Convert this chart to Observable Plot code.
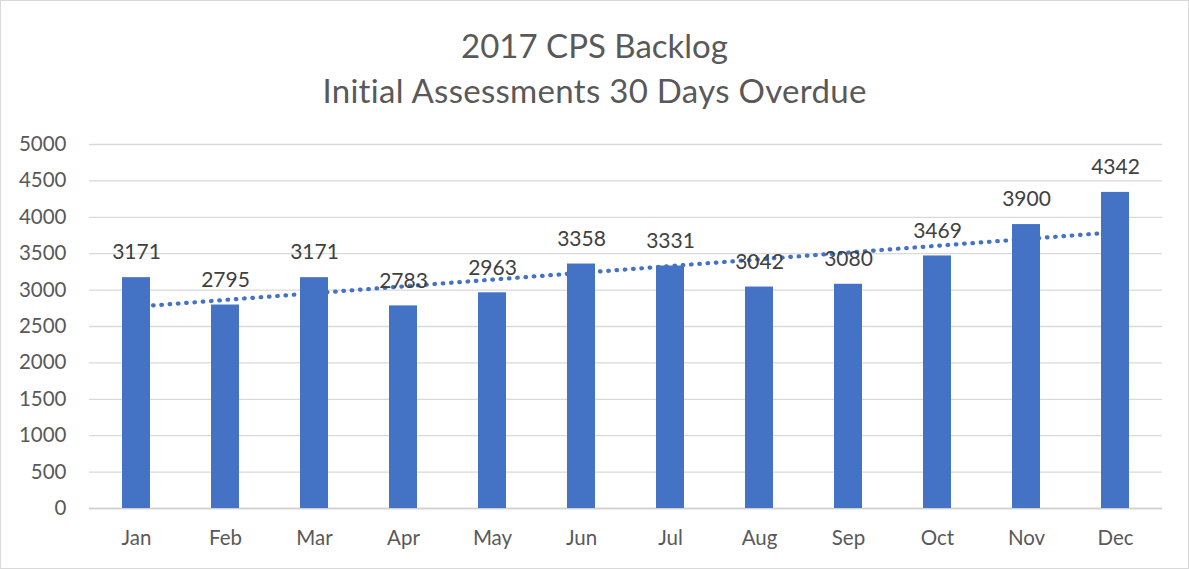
<!DOCTYPE html>
<html>
<head>
<meta charset="utf-8">
<script src="https://cdn.jsdelivr.net/npm/d3@7"></script>
<script src="https://cdn.jsdelivr.net/npm/@observablehq/plot@0.6"></script>
<style>
  html, body { margin: 0; padding: 0; background: #fff; }
  #frame { width: 1187px; height: 567px; border: 1px solid #d9d9d9; background: #fff; overflow: hidden; }
  #title { height: 120px; box-sizing: border-box; padding-top: 22px; text-align: center; font-family: Lato, "Noto Sans", sans-serif; font-size: 33px; line-height: 45px; color: #595959; }
  #title .l2 { letter-spacing: 0.3px; }
</style>
</head>
<body>
<div id="frame">
  <div id="title"><div>2017 CPS Backlog</div><div class="l2">Initial Assessments 30 Days Overdue</div></div>
  <div id="chart"></div>
</div>
<script>
const months = ["Jan","Feb","Mar","Apr","May","Jun","Jul","Aug","Sep","Oct","Nov","Dec"];
const backlog = [3171, 2795, 3171, 2783, 2963, 3358, 3331, 3042, 3080, 3469, 3900, 4342];
const yTicks = [0, 500, 1000, 1500, 2000, 2500, 3000, 3500, 4000, 4500, 5000];

const data = months.map((m, i) => ({month: m, value: backlog[i], idx: i + 1}));

// Linear trendline (least squares, like Excel)
const mx = d3.mean(data, d => d.idx), my = d3.mean(data, d => d.value);
const slope = d3.sum(data, d => (d.idx - mx) * (d.value - my)) / d3.sum(data, d => (d.idx - mx) ** 2);
const intercept = my - slope * mx;
const trend = data.map(d => ({month: d.month, trend: intercept + slope * d.idx}));

const chart = Plot.plot({
  width: 1187,
  height: 445,
  marginLeft: 88,
  marginRight: 26,
  marginTop: 23,
  marginBottom: 58,
  style: {fontFamily: "Lato, 'Noto Sans', sans-serif", background: "#fff"},
  x: {domain: months, paddingInner: 0.69, paddingOuter: 0.345, label: null},
  y: {domain: [0, 5000], label: null},
  marks: [
    Plot.gridY(yTicks, {stroke: "#d9d9d9", strokeOpacity: 1, strokeWidth: 1.3}),
    Plot.ruleY([0], {stroke: "#d0d0d0", strokeWidth: 1.5}),
    Plot.barY(data, {x: "month", y: "value", fill: "#4472c4"}),
    Plot.lineY(trend, {x: "month", y: "trend", stroke: "#4472c4", strokeWidth: 4.2, strokeDasharray: "0.6 7.7", strokeLinecap: "round"}),
    Plot.text(data, {x: "month", y: "value", text: d => String(d.value), dy: -25, fontSize: 21, fill: "#404040"}),
    Plot.axisY({ticks: yTicks, tickSize: 0, tickPadding: 23, fontSize: 20.5, color: "#595959", label: null, tickFormat: d => String(d)}),
    Plot.axisX({tickSize: 0, tickPadding: 22, fontSize: 20.5, color: "#595959", label: null})
  ]
});
document.getElementById("chart").appendChild(chart);
</script>
</body>
</html>
